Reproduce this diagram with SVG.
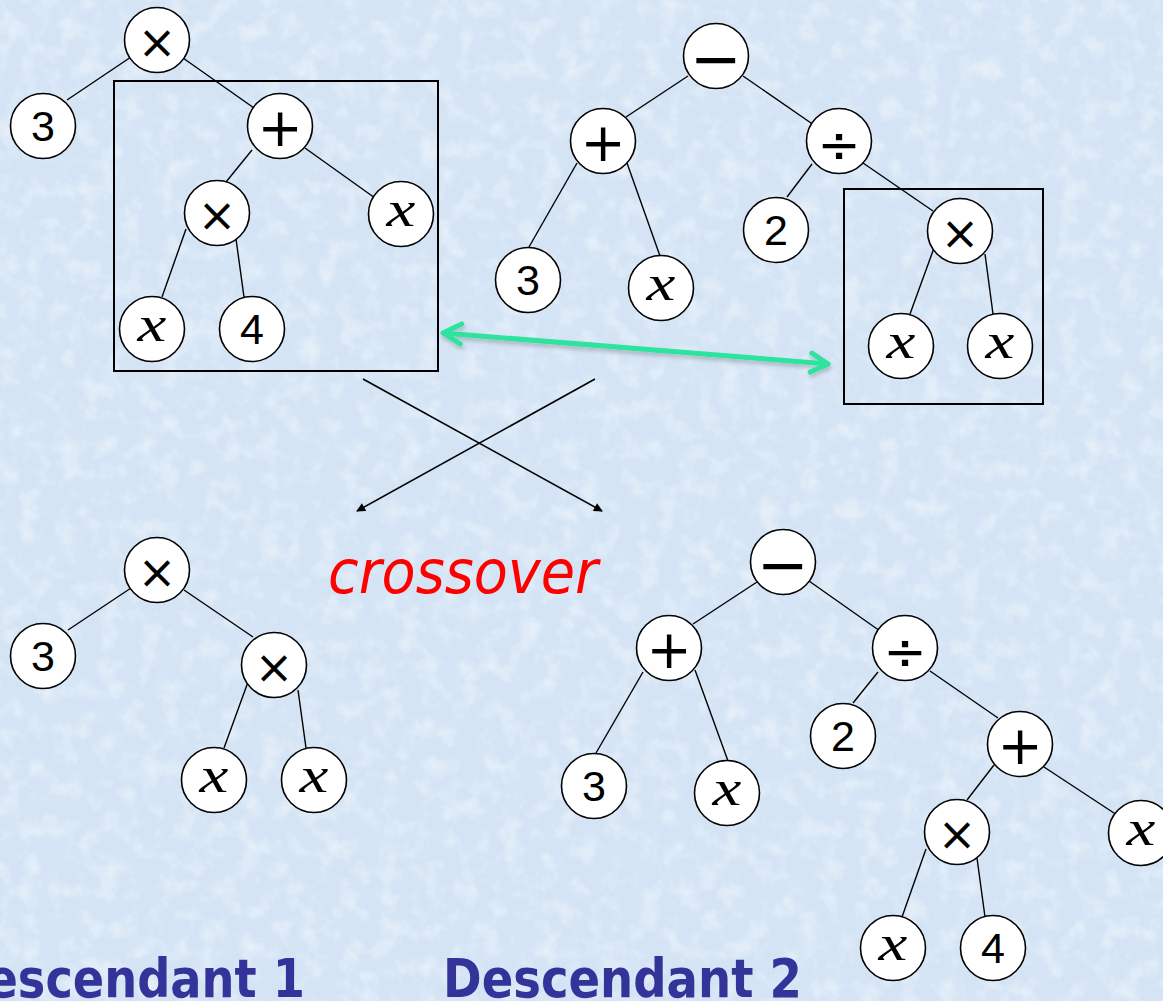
<svg xmlns="http://www.w3.org/2000/svg" width="1163" height="1001" viewBox="0 0 1163 1001">
  <defs>
    <style>
      .node circle { fill: #ffffff; stroke: #000000; stroke-width: 1.6; }
      .num { font-family: "Liberation Sans", Arial, sans-serif; font-size: 43px; text-anchor: middle; fill: #000; }
      .op { font-family: "DejaVu Sans", sans-serif; text-anchor: middle; dominant-baseline: central; fill: #000; }
      .mul { font-size: 46px; }
      .add { font-size: 54px; }
      .div { font-size: 52px; }
      .sub { font-size: 62px; }
      .var { font-family: "Liberation Serif", "Times New Roman", serif; font-style: italic; font-size: 50px; text-anchor: middle; fill: #000; }
      .edges line { stroke: #000000; stroke-width: 1.4; }
      .box { fill: none; stroke: #000000; stroke-width: 2; }
      .cross { stroke: #000000; stroke-width: 1.6; fill: none; marker-end: url(#tri); }
      .swap { stroke: #2ee39e; stroke-width: 5; fill: none; stroke-linecap: round; stroke-linejoin: round; }
      .label { font-family: "DejaVu Sans Condensed", "DejaVu Sans", sans-serif; font-stretch: condensed; font-weight: bold; font-size: 53px; fill: #333399; }
      .title { font-family: "DejaVu Sans Condensed", "DejaVu Sans", sans-serif; font-stretch: condensed; font-style: italic; font-size: 60px; fill: #ff0000; }
    </style>
    <marker id="tri" viewBox="0 0 10 10" refX="9" refY="5" markerWidth="11" markerHeight="9" markerUnits="userSpaceOnUse" orient="auto">
      <path d="M0,0 L10,5 L0,10 z" fill="#000"/>
    </marker>
    <filter id="hiTex" x="0" y="0" width="100%" height="100%">
      <feTurbulence type="fractalNoise" baseFrequency="0.05" numOctaves="4" seed="3"/>
      <feColorMatrix type="matrix" values="0 0 0 0 1  0 0 0 0 1  0 0 0 0 1  1.0 0 0 0 -0.45"/>
    </filter>
    <filter id="loTex" x="0" y="0" width="100%" height="100%">
      <feTurbulence type="fractalNoise" baseFrequency="0.09" numOctaves="3" seed="11"/>
      <feColorMatrix type="matrix" values="0 0 0 0 0.66  0 0 0 0 0.77  0 0 0 0 0.9  0 0.9 0 0 -0.45"/>
    </filter>
    <filter id="shadow" x="-10%" y="-50%" width="120%" height="200%">
      <feDropShadow dx="1" dy="3" stdDeviation="2" flood-color="#000" flood-opacity="0.22"/>
    </filter>
  </defs>

  <!-- paper background -->
  <rect width="1163" height="1001" fill="#d4e4f5"/>
  <rect width="1163" height="1001" filter="url(#loTex)"/>
  <rect width="1163" height="1001" filter="url(#hiTex)"/>

  <!-- edges of all four trees -->
  <g id="connectors" class="edges">
    <line x1="131" y1="57" x2="67" y2="100"/>
    <line x1="183" y1="58" x2="254" y2="108"/>
    <line x1="252" y1="150" x2="226" y2="182"/>
    <line x1="305" y1="148" x2="375" y2="198"/>
    <line x1="186" y1="229" x2="162" y2="297"/>
    <line x1="236" y1="239" x2="244" y2="297"/>

    <line x1="688" y1="76" x2="626" y2="117"/>
    <line x1="743" y1="76" x2="811" y2="123"/>
    <line x1="577" y1="163" x2="529" y2="247"/>
    <line x1="627" y1="163" x2="660" y2="256"/>
    <line x1="812" y1="164" x2="787" y2="197"/>
    <line x1="863" y1="163" x2="933" y2="211"/>
    <line x1="934" y1="248" x2="910" y2="314"/>
    <line x1="985" y1="254" x2="993" y2="314"/>

    <line x1="131" y1="588" x2="68" y2="630"/>
    <line x1="184" y1="590" x2="253" y2="637"/>
    <line x1="248" y1="682" x2="224" y2="748"/>
    <line x1="298" y1="690" x2="306" y2="748"/>

    <line x1="757" y1="582" x2="693" y2="624"/>
    <line x1="809" y1="581" x2="880" y2="631"/>
    <line x1="643" y1="672" x2="596" y2="753"/>
    <line x1="695" y1="670" x2="728" y2="761"/>
    <line x1="878" y1="672" x2="853" y2="703"/>
    <line x1="930" y1="671" x2="998" y2="718"/>
    <line x1="994" y1="765" x2="967" y2="800"/>
    <line x1="1044" y1="767" x2="1117" y2="815"/>
    <line x1="926" y1="849" x2="902" y2="917"/>
    <line x1="977" y1="858" x2="985" y2="917"/>
  </g>

  <!-- selected subtrees -->
  <rect id="box-left" class="box" x="114" y="81" width="324" height="290"/>
  <rect id="box-right" class="box" x="844" y="189" width="199" height="215"/>

  <!-- swap arrow between the selected subtrees -->
  <g id="swap-arrow" filter="url(#shadow)">
    <line class="swap" x1="446" y1="333.3" x2="825" y2="363.7"/>
    <polyline class="swap" points="461.7,323.9 443,333 460.2,343.8"/>
    <polyline class="swap" points="811.8,353.2 828,364 810.3,372.1"/>
  </g>

  <!-- crossing arrows -->
  <g id="cross-arrows">
    <line class="cross" x1="363" y1="379" x2="602" y2="511"/>
    <line class="cross" x1="595" y1="379" x2="357" y2="511"/>
  </g>
  <text id="crossover-label" class="title" x="328" y="593" textLength="270" lengthAdjust="spacingAndGlyphs">crossover</text>

  <!-- parent 1: 3 × (x × 4 + x) -->
  <g id="t1-mul" class="node"><circle cx="157" cy="40" r="32.5"/><text class="op mul" x="157" y="42">×</text></g>
  <g id="t1-three" class="node"><circle cx="43" cy="126" r="32.5"/><text class="num" x="43" y="141">3</text></g>
  <g id="t1-plus" class="node"><circle cx="280" cy="126" r="32.5"/><text class="op add" x="280" y="127">+</text></g>
  <g id="t1-mul2" class="node"><circle cx="217" cy="213" r="32.5"/><text class="op mul" x="217" y="215">×</text></g>
  <g id="t1-x1" class="node"><circle cx="401" cy="214" r="32.5"/><text class="var" transform="translate(401 214) scale(1.3 1)" x="0" y="11.5">x</text></g>
  <g id="t1-x2" class="node"><circle cx="152" cy="329" r="32.5"/><text class="var" transform="translate(152 329) scale(1.3 1)" x="0" y="11.5">x</text></g>
  <g id="t1-four" class="node"><circle cx="252" cy="329" r="32.5"/><text class="num" x="252" y="344">4</text></g>

  <!-- parent 2: (3 + x) − 2 ÷ (x × x) -->
  <g id="t2-minus" class="node"><circle cx="716" cy="56" r="32.5"/><text class="op sub" x="716" y="58">−</text></g>
  <g id="t2-plus" class="node"><circle cx="603" cy="141" r="32.5"/><text class="op add" x="603" y="142">+</text></g>
  <g id="t2-div" class="node"><circle cx="839" cy="141" r="32.5"/><text class="op div" x="839" y="144">÷</text></g>
  <g id="t2-two" class="node"><circle cx="776" cy="230" r="32.5"/><text class="num" x="776" y="245">2</text></g>
  <g id="t2-mul" class="node"><circle cx="960" cy="231" r="32.5"/><text class="op mul" x="960" y="233">×</text></g>
  <g id="t2-three" class="node"><circle cx="528" cy="280" r="32.5"/><text class="num" x="528" y="295">3</text></g>
  <g id="t2-x1" class="node"><circle cx="661" cy="288" r="32.5"/><text class="var" transform="translate(661 288) scale(1.3 1)" x="0" y="11.5">x</text></g>
  <g id="t2-x2" class="node"><circle cx="901" cy="346" r="32.5"/><text class="var" transform="translate(901 346) scale(1.3 1)" x="0" y="11.5">x</text></g>
  <g id="t2-x3" class="node"><circle cx="1000" cy="346" r="32.5"/><text class="var" transform="translate(1000 346) scale(1.3 1)" x="0" y="11.5">x</text></g>

  <!-- child 1: 3 × (x × x) -->
  <g id="t3-mul" class="node"><circle cx="157" cy="570" r="32.5"/><text class="op mul" x="157" y="572">×</text></g>
  <g id="t3-three" class="node"><circle cx="43" cy="656" r="32.5"/><text class="num" x="43" y="671">3</text></g>
  <g id="t3-mul2" class="node"><circle cx="274" cy="665" r="32.5"/><text class="op mul" x="274" y="667">×</text></g>
  <g id="t3-x1" class="node"><circle cx="214" cy="780" r="32.5"/><text class="var" transform="translate(214 780) scale(1.3 1)" x="0" y="11.5">x</text></g>
  <g id="t3-x2" class="node"><circle cx="314" cy="780" r="32.5"/><text class="var" transform="translate(314 780) scale(1.3 1)" x="0" y="11.5">x</text></g>

  <!-- child 2: (3 + x) − 2 ÷ (x × 4 + x) -->
  <g id="t4-minus" class="node"><circle cx="783" cy="562" r="32.5"/><text class="op sub" x="783" y="564">−</text></g>
  <g id="t4-plus" class="node"><circle cx="669" cy="648" r="32.5"/><text class="op add" x="669" y="649">+</text></g>
  <g id="t4-div" class="node"><circle cx="905" cy="648" r="32.5"/><text class="op div" x="905" y="651">÷</text></g>
  <g id="t4-two" class="node"><circle cx="843" cy="736" r="32.5"/><text class="num" x="843" y="751">2</text></g>
  <g id="t4-plus2" class="node"><circle cx="1020" cy="744" r="32.5"/><text class="op add" x="1020" y="745">+</text></g>
  <g id="t4-three" class="node"><circle cx="594" cy="786" r="32.5"/><text class="num" x="594" y="801">3</text></g>
  <g id="t4-x1" class="node"><circle cx="727" cy="793" r="32.5"/><text class="var" transform="translate(727 793) scale(1.3 1)" x="0" y="11.5">x</text></g>
  <g id="t4-mul" class="node"><circle cx="957" cy="832" r="32.5"/><text class="op mul" x="957" y="834">×</text></g>
  <g id="t4-x2" class="node"><circle cx="1141" cy="833" r="32.5"/><text class="var" transform="translate(1141 833) scale(1.3 1)" x="0" y="11.5">x</text></g>
  <g id="t4-x3" class="node"><circle cx="893" cy="948" r="32.5"/><text class="var" transform="translate(893 948) scale(1.3 1)" x="0" y="11.5">x</text></g>
  <g id="t4-four" class="node"><circle cx="993" cy="948" r="32.5"/><text class="num" x="993" y="963">4</text></g>

  <!-- captions -->
  <text id="caption-1" class="label" x="305" y="997" text-anchor="end" textLength="357" lengthAdjust="spacingAndGlyphs">Descendant 1</text>
  <text id="caption-2" class="label" x="443" y="997" textLength="359" lengthAdjust="spacingAndGlyphs">Descendant 2</text>
</svg>
